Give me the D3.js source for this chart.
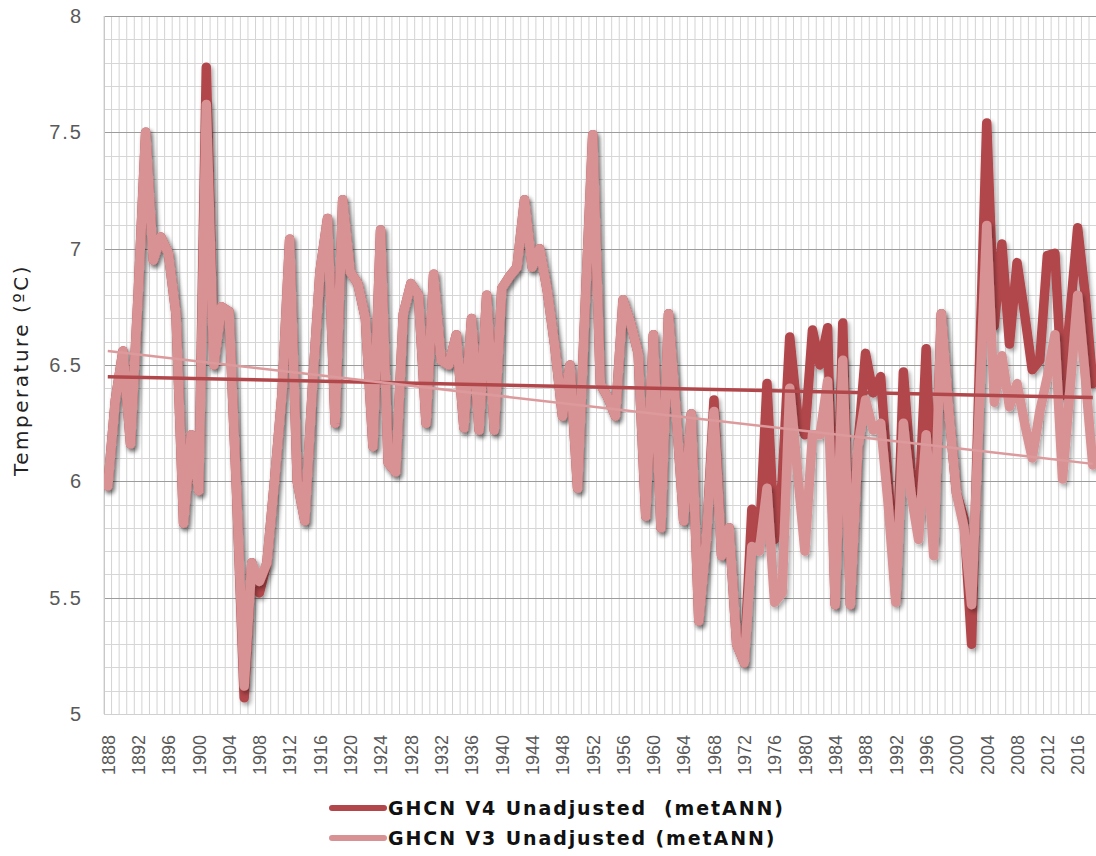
<!DOCTYPE html>
<meta charset="utf-8">
<script src="https://d3js.org/d3.v7.min.js"></script>
<style>
  body { margin: 0; background: #fff; }
  svg { display: block; font-family: "DejaVu Sans", Verdana, sans-serif; }
</style>
<svg id="chart" width="1096" height="856"></svg>

<script>

  // categories (one per year)
  var years = d3.range(1888, 2019);

  // GHCN V4 unadjusted annual means
  var v4 = [
    5.98, 6.35,
    6.56, 6.16, 6.8, 7.5, 6.95, 7.05, 6.98, 6.72, 5.82, 6.2,
    5.96, 7.78, 6.5, 6.75, 6.73, 5.95, 5.07, 5.65, 5.52, 5.65,
    6.0, 6.38, 7.04, 6.0, 5.83, 6.4, 6.9, 7.13, 6.25, 7.21,
    6.9, 6.85, 6.7, 6.15, 7.08, 6.08, 6.04, 6.72, 6.85, 6.8,
    6.25, 6.89, 6.52, 6.5, 6.63, 6.23, 6.7, 6.22, 6.8, 6.22,
    6.83, 6.88, 6.92, 7.21, 6.92, 7.0, 6.82, 6.58, 6.28, 6.5,
    5.97, 6.75, 7.49, 6.42, 6.36, 6.28, 6.78, 6.68, 6.55, 5.85,
    6.63, 5.8, 6.72, 6.3, 5.83, 6.29, 5.4, 5.75, 6.35, 5.68,
    5.8, 5.3, 5.22, 5.88, 5.75, 6.42, 5.75, 6.0, 6.62, 6.3,
    6.2, 6.65, 6.5, 6.66, 5.47, 6.68, 5.47, 6.15, 6.55, 6.38,
    6.45, 6.0, 5.5, 6.47, 6.05, 5.85, 6.57, 5.75, 6.72, 6.3,
    5.95, 5.84, 5.3, 6.45, 7.54, 6.67, 7.02, 6.59, 6.94, 6.72,
    6.48, 6.52, 6.97, 6.98, 6.37, 6.72, 7.09, 6.8, 6.42
  ];

  // GHCN V3 unadjusted annual means
  var v3 = [
    5.98, 6.35,
    6.56, 6.16, 6.8, 7.5, 6.95, 7.05, 6.98, 6.72, 5.82, 6.2,
    5.96, 7.62, 6.5, 6.75, 6.73, 5.95, 5.12, 5.65, 5.57, 5.65,
    6.0, 6.38, 7.04, 6.0, 5.83, 6.4, 6.9, 7.13, 6.25, 7.21,
    6.9, 6.85, 6.7, 6.15, 7.08, 6.08, 6.04, 6.72, 6.85, 6.8,
    6.25, 6.89, 6.52, 6.5, 6.63, 6.23, 6.7, 6.22, 6.8, 6.22,
    6.83, 6.88, 6.92, 7.21, 6.92, 7.0, 6.82, 6.58, 6.28, 6.5,
    5.97, 6.75, 7.49, 6.42, 6.36, 6.28, 6.78, 6.68, 6.55, 5.85,
    6.63, 5.8, 6.72, 6.3, 5.83, 6.29, 5.4, 5.75, 6.3, 5.68,
    5.8, 5.3, 5.22, 5.72, 5.7, 5.97, 5.48, 5.52, 6.4, 6.05,
    5.7, 6.2, 6.2, 6.43, 5.47, 6.52, 5.47, 6.15, 6.35, 6.22,
    6.25, 5.9, 5.48, 6.25, 5.95, 5.75, 6.2, 5.68, 6.72, 6.3,
    5.95, 5.8, 5.47, 6.3, 7.1, 6.34, 6.54, 6.32, 6.42, 6.25,
    6.1, 6.3, 6.45, 6.63, 6.01, 6.4, 6.8, 6.45, 6.07
  ];

  // linear trendlines, values at first and last year
  var trendV4 = [6.45, 6.36];
  var trendV3 = [6.56, 6.075];

  var yTicks = [5, 5.5, 6, 6.5, 7, 7.5, 8];
  var xTicks = years.filter(function (d) { return (d - 1888) % 4 === 0; });
  var seriesNames = ["GHCN V4 Unadjusted  (metANN)", "GHCN V3 Unadjusted (metANN)"];

  var c4 = "#b2474b", c3 = "#d99294";

  var svg = d3.select("svg"),
    pLeft = 104, pRight = 1096.6, pTop = 16, pBottom = 714;

  var x = d3.scaleLinear().domain([1887.5, 2018.5]).range([pLeft, pRight]);
  var y = d3.scaleLinear().domain([5, 8]).range([pBottom, pTop]);

  var defs = svg.append("defs");
  defs.append("clipPath").attr("id", "plot")
    .append("rect").attr("x", pLeft).attr("y", pTop - 10)
    .attr("width", pRight - pLeft).attr("height", pBottom - pTop + 20);
  defs.append("filter").attr("id", "shadow")
    .attr("x", "-5%").attr("y", "-5%").attr("width", "110%").attr("height", "110%")
    .append("feDropShadow")
    .attr("dx", 2).attr("dy", 3).attr("stdDeviation", 2)
    .attr("flood-color", "#000").attr("flood-opacity", 0.35);

  // grid: vertical line at every category boundary
  var grid = svg.append("g");
  grid.selectAll(".vg")
    .data(d3.range(1887.5, 2019.5, 1))
    .enter().append("line")
    .attr("x1", function (d) { return x(d); }).attr("x2", function (d) { return x(d); })
    .attr("y1", pTop).attr("y2", pBottom)
    .attr("stroke", "#d3d3d3").attr("stroke-width", 1);

  // horizontal minor (0.1) and major (0.5) lines
  grid.selectAll(".hg")
    .data(d3.range(50, 81).map(function (d) { return d / 10; }))
    .enter().append("line")
    .attr("x1", pLeft).attr("x2", pRight)
    .attr("y1", function (d) { return Math.round(y(d)) + 0.5; })
    .attr("y2", function (d) { return Math.round(y(d)) + 0.5; })
    .attr("stroke", function (d) { return Math.abs(d * 2 - Math.round(d * 2)) < 1e-6 ? "#9c9c9c" : "#d6d6d6"; })
    .attr("stroke-width", 1);
  grid.append("line")
    .attr("x1", pLeft + 0.5).attr("x2", pLeft + 0.5).attr("y1", pTop).attr("y2", pBottom)
    .attr("stroke", "#c8c8c8");
  grid.append("line")
    .attr("x1", pLeft).attr("x2", pRight).attr("y1", pBottom + 0.5).attr("y2", pBottom + 0.5)
    .attr("stroke", "#d0d0d0");

  // y axis
  var yAxis = svg.append("g")
    .attr("transform", "translate(" + pLeft + ",0)")
    .call(d3.axisLeft(y).tickValues(yTicks).tickSize(0).tickPadding(21).tickFormat(function (d) { return d; }));
  yAxis.select(".domain").remove();
  yAxis.selectAll("text")
    .style("font-size", "20px")
    .style("letter-spacing", "2px")
    .attr("fill", "#595959");

  // x axis (labels rotated)
  var xAxis = svg.append("g")
    .attr("transform", "translate(0," + pBottom + ")")
    .call(d3.axisBottom(x).tickValues(xTicks).tickSize(0).tickFormat(function (d) { return d; }));
  xAxis.select(".domain").remove();
  xAxis.selectAll("text")
    .attr("transform", "translate(0,21) rotate(-90)")
    .attr("x", 0).attr("y", 0).attr("dy", "0.35em")
    .style("text-anchor", "end")
    .style("font-size", "18px")
    .attr("fill", "#595959");

  // y title
  svg.append("text")
    .attr("transform", "translate(28,370) rotate(-90)")
    .attr("text-anchor", "middle")
    .style("font-size", "20px")
    .style("letter-spacing", "2.5px")
    .attr("fill", "#222")
    .text("Temperature (ºC)");

  // lines
  var line = d3.line()
    .x(function (d, i) { return x(years[i]); })
    .y(function (d) { return y(d); });

  var plot = svg.append("g").attr("clip-path", "url(#plot)");

  plot.append("path").datum(v4)
    .attr("d", line).attr("fill", "none")
    .attr("stroke", c4).attr("stroke-width", 9.5)
    .attr("stroke-linejoin", "round").attr("stroke-linecap", "round")
    .attr("filter", "url(#shadow)");

  plot.append("path").datum(v3)
    .attr("d", line).attr("fill", "none")
    .attr("stroke", c3).attr("stroke-width", 9.5)
    .attr("stroke-linejoin", "round").attr("stroke-linecap", "round")
    .attr("filter", "url(#shadow)");

  // trendlines from first to last year
  var ends = [years[0], years[years.length - 1]];
  var tline = d3.line()
    .x(function (d, i) { return x(ends[i]); })
    .y(function (d) { return y(d); });

  plot.append("path").datum(trendV4)
    .attr("d", tline).attr("fill", "none")
    .attr("stroke", c4).attr("stroke-width", 3.5);
  plot.append("path").datum(trendV3)
    .attr("d", tline).attr("fill", "none")
    .attr("stroke", "#dc9a9c").attr("stroke-width", 2.5);

  // legend
  var legend = svg.append("g");
  [c4, c3].forEach(function (c, i) {
    legend.append("line")
      .attr("x1", 332).attr("x2", 384)
      .attr("y1", 808 + i * 30).attr("y2", 808 + i * 30)
      .attr("stroke", c).attr("stroke-width", 6).attr("stroke-linecap", "round");
    legend.append("text")
      .attr("x", 388).attr("y", 815 + i * 30)
      .style("font-size", "19px")
      .style("font-weight", "bold")
      .style("letter-spacing", "1.9px")
      .style("white-space", "pre")
      .attr("fill", "#111")
      .text(seriesNames[i]);
  });

</script>
